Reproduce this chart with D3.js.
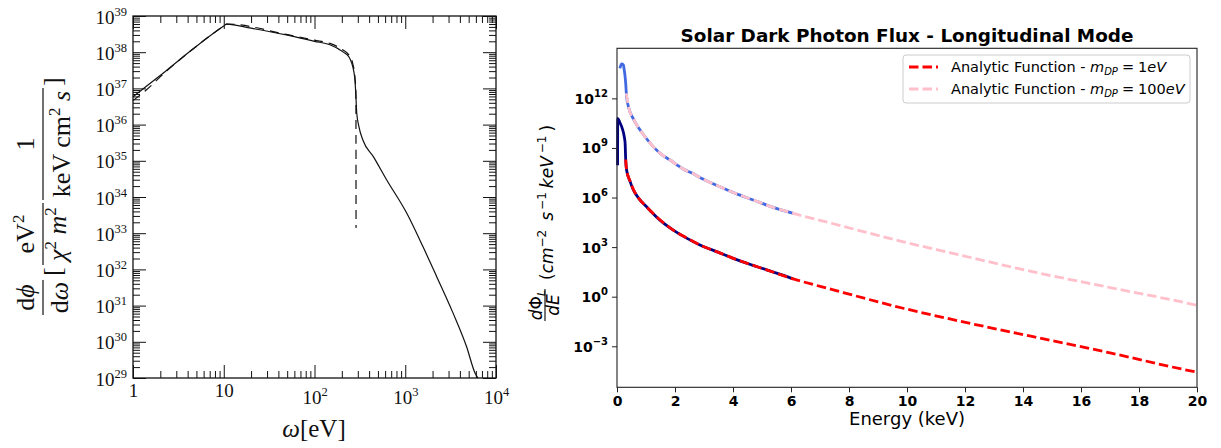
<!DOCTYPE html>
<html>
<head>
<meta charset="utf-8">
<script src="https://cdn.jsdelivr.net/npm/d3@7"></script>
<style>
  body { margin: 0; background: #fff; }
  .serif { font-family: "Liberation Serif", "DejaVu Serif", serif; }
  .sans { font-family: "DejaVu Sans", sans-serif; }
</style>
</head>
<body>
<div id="main"></div>
<script>
// ---- left panel: dphi/domega vs omega (eV), log-log ----
const leftSolidE = [1, 1.36, 2.25, 4.43, 9.9, 10.8, 20, 49, 100, 148, 206, 240, 257, 272, 279, 285, 292, 309, 342, 445, 625, 1037, 1570, 2222, 3357, 4753, 5870, 6330];
const leftSolidFlux = [5.9e36, 1.07e37, 2.9e37, 1.15e38, 5.2e38, 6.0e38, 4.6e38, 3.0e38, 2.0e38, 1.6e38, 1.02e38, 7.4e37, 5.0e37, 2.8e37, 1.7e37, 7.1e36, 2.1e36, 8.7e35, 3.7e35, 1.3e35, 2.95e34, 3.6e33, 4.2e32, 6.3e31, 6.3e30, 7.2e29, 1.38e29, 1.0e29];
const leftDashedE = [1, 1.36, 2.25, 4.43, 9.9, 10.8, 49, 100, 148, 206, 240, 262, 279, 286, 287];
const leftDashedFlux = [4.6e36, 8.5e36, 2.75e37, 1.15e38, 5.2e38, 6.0e38, 3.1e38, 2.15e38, 1.75e38, 1.15e38, 8.3e37, 5.2e37, 2.0e37, 7.9e36, 1.4e33];
const leftXTicks = [1, 10, 100, 1000, 10000];
const leftXBase = ["1", "10", "10", "10", "10"];
const leftXExp = ["", "", "2", "3", "4"];
const leftYExp = [29, 30, 31, 32, 33, 34, 35, 36, 37, 38, 39];

// ---- right panel: solar dark photon flux, longitudinal ----
const navyE = [0.02, 0.025, 0.1, 0.18, 0.25, 0.28, 0.30, 0.33, 0.45, 0.56, 0.75, 1.02, 1.5, 1.94, 2.4, 2.86, 3.5, 4.01, 4.6, 5.16, 6.02, 6.08];
const navyFlux = [9.1e7, 6.2e10, 3.4e10, 1.55e10, 4.8e9, 1.9e9, 1.86e8, 4.6e7, 9.5e6, 3.0e6, 8.9e5, 2.75e5, 4.0e4, 1.07e4, 3.5e3, 1.35e3, 480, 209, 89, 42, 12.9, 11.7];
const blueE = [0.10, 0.16, 0.22, 0.25, 0.28, 0.30, 0.33, 0.41, 0.56, 0.75, 1.0, 1.5, 1.83, 2.3, 2.62, 2.98, 3.55, 4.24, 4.7, 5.16, 6.08];
const blueFlux = [6.6e13, 1.2e14, 1.05e14, 5.1e13, 2.0e13, 8.1e12, 1.26e12, 2.5e11, 5.9e10, 1.6e10, 4.0e9, 4.5e8, 1.86e8, 5.2e7, 2.8e7, 1.26e7, 4.5e6, 1.4e6, 7.1e5, 3.5e5, 1.1e5];
const redE = [0.30, 0.33, 0.45, 0.56, 0.75, 1.02, 1.5, 1.94, 2.4, 2.86, 3.5, 4.01, 4.6, 5.16, 6.02, 7.46, 9.87, 11.48, 14.35, 17, 19.93, 20];
const redFlux = [2.0e8, 4.6e7, 1.0e7, 3.2e6, 8.9e5, 2.75e5, 4.2e4, 1.07e4, 3.6e3, 1.35e3, 480, 209, 89, 42, 12.9, 2.6, 0.20, 0.045, 0.0038, 4.0e-4, 2.9e-5, 2.75e-5];
const pinkE = [0.32, 0.41, 0.56, 0.75, 1.0, 1.5, 1.83, 2.3, 2.62, 2.98, 3.55, 4.24, 4.7, 5.16, 6.08, 7.46, 9.87, 11.48, 14.35, 17, 19.93, 20];
const pinkFlux = [2.0e12, 2.5e11, 5.9e10, 1.6e10, 4.0e9, 4.5e8, 1.86e8, 5.2e7, 2.8e7, 1.26e7, 4.5e6, 1.4e6, 7.1e5, 3.5e5, 1.1e5, 2.6e4, 2.1e3, 460, 32, 3.6, 0.32, 0.30];
const rightXTicks = [0, 2, 4, 6, 8, 10, 12, 14, 16, 18, 20];
const rightYExp = [-3, 0, 3, 6, 9, 12];
const legendMass = ["1eV", "100eV"];
const legendColors = ["red", "pink"];

const zip = (a, b) => a.map((v, i) => [v, b[i]]);

const svg = d3.select("#main").append("svg")
  .attr("width", 1221).attr("height", 448)
  .style("background", "#fff");

// ================= left panel =================
const L = {left: 133, right: 496, top: 16, bottom: 378};
const lx = d3.scaleLog().domain([1, 1e4]).range([L.left, L.right]);
const ly = d3.scaleLog().domain([1e29, 1e39]).range([L.bottom, L.top]);
const lyMajor = leftYExp.map(e => Math.pow(10, e));
// log minor ticks 2..9 inside each decade
const minorsOf = majors => majors.slice(0, -1)
  .flatMap(m => [2, 3, 4, 5, 6, 7, 8, 9].map(k => k * m));
const lyMinor = minorsOf(lyMajor);
const lxMinor = minorsOf(leftXTicks);

function inwardTicks(axisFn, scale, vals, size, tx, ty) {
  const g = svg.append("g").attr("transform", "translate(" + tx + "," + ty + ")")
    .call(axisFn(scale).tickValues(vals).tickSize(-size).tickFormat(""));
  g.select(".domain").remove();
  g.selectAll(".tick line").attr("stroke", "#111").attr("stroke-width", 1);
  return g;
}
inwardTicks(d3.axisLeft, ly, lyMajor, 13, L.left, 0);
inwardTicks(d3.axisLeft, ly, lyMinor, 7, L.left, 0);
inwardTicks(d3.axisRight, ly, lyMajor, 13, L.right, 0);
inwardTicks(d3.axisRight, ly, lyMinor, 7, L.right, 0);
inwardTicks(d3.axisBottom, lx, leftXTicks, 13, 0, L.bottom);
inwardTicks(d3.axisBottom, lx, lxMinor, 7, 0, L.bottom);
inwardTicks(d3.axisTop, lx, leftXTicks, 13, 0, L.top);
inwardTicks(d3.axisTop, lx, lxMinor, 7, 0, L.top);

svg.append("rect")
  .attr("x", L.left).attr("y", L.top)
  .attr("width", L.right - L.left).attr("height", L.bottom - L.top)
  .attr("fill", "none").attr("stroke", "#111").attr("stroke-width", 1.3);

// y tick labels 10^n
const lyLab = svg.append("g").attr("transform", "translate(" + L.left + ",0)")
  .call(d3.axisLeft(ly).tickValues(lyMajor).tickSize(0).tickPadding(6).tickFormat(""));
lyLab.select(".domain").remove();
lyLab.selectAll(".tick text")
  .attr("class", "serif").attr("dy", "7px").attr("fill", "#111")
  .style("font-size", "19px")
  .each(function(d, i) {
    const t = d3.select(this);
    t.append("tspan").text("10");
    t.append("tspan").attr("dy", -8).style("font-size", "12.5px").text(leftYExp[i]);
  });

// x tick labels
const lxLab = svg.append("g").attr("transform", "translate(0," + L.bottom + ")")
  .call(d3.axisBottom(lx).tickValues(leftXTicks).tickSize(0).tickFormat(""));
lxLab.select(".domain").remove();
lxLab.selectAll(".tick text")
  .attr("class", "serif").attr("fill", "#111").attr("dy", 0)
  .attr("y", (d, i) => leftXExp[i] ? 26 : 19)
  .style("font-size", "19px")
  .each(function(d, i) {
    const t = d3.select(this);
    t.append("tspan").text(leftXBase[i]);
    if (leftXExp[i]) t.append("tspan").attr("dy", -8).style("font-size", "12.5px").text(leftXExp[i]);
  });

const lineL = d3.line().x(d => lx(d[0])).y(d => ly(d[1])).curve(d3.curveMonotoneX);
svg.append("path").datum(zip(leftDashedE, leftDashedFlux))
  .attr("d", lineL).attr("fill", "none").attr("stroke", "#111")
  .attr("stroke-width", 1.2).attr("stroke-dasharray", "9,6");
svg.append("path").datum(zip(leftSolidE, leftSolidFlux))
  .attr("d", lineL).attr("fill", "none").attr("stroke", "#111").attr("stroke-width", 1.2);

// axis labels
svg.append("text").attr("class", "serif").attr("x", 314).attr("y", 437)
  .attr("text-anchor", "middle").style("font-size", "25px").attr("fill", "#111")
  .html('<tspan font-style="italic">ω</tspan>[eV]');

const ylab = svg.append("g").attr("class", "serif")
  .attr("transform", "translate(43,317) rotate(-90)")
  .style("font-size", "26px").attr("fill", "#111");
const frac = (x0, x1, num, den, denY) => {
  ylab.append("text").attr("x", (x0 + x1) / 2).attr("y", -9).attr("text-anchor", "middle").html(num);
  ylab.append("line").attr("x1", x0).attr("x2", x1).attr("y1", 0).attr("y2", 0)
    .attr("stroke", "#111").attr("stroke-width", 1.2);
  ylab.append("text").attr("x", (x0 + x1) / 2).attr("y", denY).attr("text-anchor", "middle").html(den);
};
frac(2, 37, 'd<tspan font-style="italic">ϕ</tspan>', 'd<tspan font-style="italic">ω</tspan>', 25);
ylab.append("text").attr("x", 41).attr("y", 18).text("[");
frac(52, 114, 'eV<tspan dy="-10" font-size="17">2</tspan>',
  '<tspan font-style="italic">χ</tspan><tspan dy="-10" font-size="17">2</tspan><tspan dy="10" font-style="italic"> m</tspan><tspan dy="-10" font-size="17">2</tspan>', 23);
frac(117, 229, '1',
  'keV cm<tspan dy="-10" font-size="17">2</tspan><tspan dy="10" font-style="italic"> s</tspan>', 27);
ylab.append("text").attr("x", 231).attr("y", 18).text("]");

// ================= right panel =================
const R = {left: 617, right: 1197, top: 48.3, bottom: 387.3};
const rx = d3.scaleLinear().domain([0, 20]).range([R.left, R.right]);
const ry = d3.scaleLog().domain([3.3e-6, 1.07e15]).range([R.bottom, R.top]);
const ryTicks = rightYExp.map(e => Math.pow(10, e));

const lineR = d3.line().x(d => rx(d[0])).y(d => ry(d[1])).curve(d3.curveMonotoneX);
const series = [
  {e: navyE, f: navyFlux, color: "navy", dash: null},
  {e: blueE, f: blueFlux, color: "royalblue", dash: null},
  {e: redE, f: redFlux, color: "red", dash: "9.5,4"},
  {e: pinkE, f: pinkFlux, color: "pink", dash: "9.5,4"}
];
series.forEach(s => {
  svg.append("path").datum(zip(s.e, s.f))
    .attr("d", lineR).attr("fill", "none")
    .attr("stroke", s.color).attr("stroke-width", 2.8)
    .attr("stroke-dasharray", s.dash);
});

svg.append("rect")
  .attr("x", R.left).attr("y", R.top)
  .attr("width", R.right - R.left).attr("height", R.bottom - R.top)
  .attr("fill", "none").attr("stroke", "#222").attr("stroke-width", 1.1);

const rxAxis = svg.append("g").attr("transform", "translate(0," + R.bottom + ")")
  .call(d3.axisBottom(rx).tickValues(rightXTicks).tickSize(5).tickPadding(4));
rxAxis.select(".domain").remove();
rxAxis.selectAll(".tick line").attr("stroke", "#222");
rxAxis.selectAll(".tick text").attr("class", "sans").attr("fill", "#000")
  .style("font-size", "14px").style("font-weight", "bold");

const ryAxis = svg.append("g").attr("transform", "translate(" + R.left + ",0)")
  .call(d3.axisLeft(ry).tickValues(ryTicks).tickSize(5).tickPadding(4).tickFormat(""));
ryAxis.select(".domain").remove();
ryAxis.selectAll(".tick line").attr("stroke", "#222");
ryAxis.selectAll(".tick text")
  .attr("class", "sans").attr("fill", "#000").attr("dy", "5px")
  .style("font-size", "14px").style("font-weight", "bold")
  .each(function(d, i) {
    const t = d3.select(this);
    t.append("tspan").text("10");
    t.append("tspan").attr("dy", -7).style("font-size", "10px")
      .text(String(rightYExp[i]).replace("-", "\u2212"));
  });

svg.append("text").attr("class", "sans").attr("x", (R.left + R.right) / 2).attr("y", 41.5)
  .attr("text-anchor", "middle").style("font-size", "18.4px").style("font-weight", "bold")
  .text("Solar Dark Photon Flux - Longitudinal Mode");

svg.append("text").attr("class", "sans").attr("x", (R.left + R.right) / 2).attr("y", 425)
  .attr("text-anchor", "middle").style("font-size", "18px")
  .text("Energy (keV)");

const rlab = svg.append("g").attr("class", "sans")
  .attr("transform", "translate(545,321) rotate(-90)").attr("fill", "#000");
rlab.append("text").attr("x", 16).attr("y", -3.5).attr("text-anchor", "middle").style("font-size", "17px")
  .html('<tspan font-style="italic">d</tspan>Φ<tspan font-style="italic" font-size="11" dy="3">L</tspan>');
rlab.append("line").attr("x1", 0).attr("x2", 32).attr("y1", 0).attr("y2", 0)
  .attr("stroke", "#000").attr("stroke-width", 1.1);
rlab.append("text").attr("x", 16).attr("y", 14).attr("text-anchor", "middle").style("font-size", "17px")
  .html('<tspan font-style="italic">dE</tspan>');
rlab.append("text").attr("x", 41).attr("y", 8).style("font-size", "17px")
  .html('(<tspan font-style="italic">cm</tspan><tspan dy="-7" font-size="12">\u22122</tspan>' +
    '<tspan dy="7" dx="9" font-style="italic">s</tspan><tspan dy="-7" dx="2" font-size="12">\u22121</tspan>' +
    '<tspan dy="7" dx="4" font-style="italic">keV</tspan><tspan dy="-7" dx="3" font-size="12">\u22121</tspan>' +
    '<tspan dy="7" dx="4">)</tspan>');

// legend
const leg = svg.append("g").attr("class", "sans");
leg.append("rect").attr("x", 903).attr("y", 55).attr("width", 287).attr("height", 48)
  .attr("rx", 3).attr("fill", "#fff").attr("fill-opacity", 0.8)
  .attr("stroke", "#ccc").attr("stroke-width", 1);
legendMass.forEach((m, i) => {
  const y = 67 + i * 22;
  leg.append("line").attr("x1", 909).attr("x2", 938).attr("y1", y).attr("y2", y)
    .attr("stroke", legendColors[i]).attr("stroke-width", 2.8).attr("stroke-dasharray", "9.5,4");
  leg.append("text").attr("x", 951).attr("y", y + 5).style("font-size", "14.5px").attr("fill", "#000")
    .html('Analytic Function - <tspan font-style="italic">m</tspan>' +
      '<tspan font-style="italic" font-size="10" dy="3">DP</tspan>' +
      '<tspan dy="-3" dx="4">=</tspan><tspan dx="4">' + m.replace("eV", "") + '</tspan>' +
      '<tspan font-style="italic">eV</tspan>');
});
</script>
</body>
</html>
